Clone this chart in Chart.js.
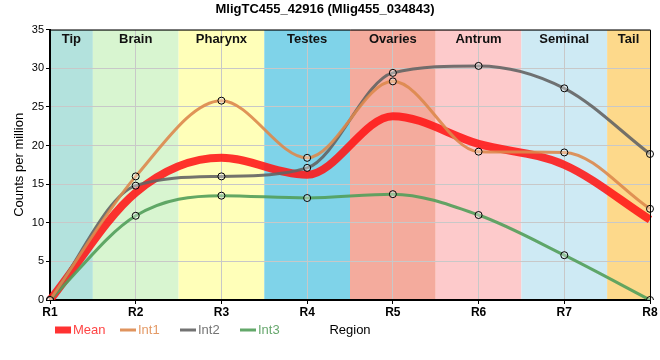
<!DOCTYPE html>
<html>
<head>
<meta charset="utf-8">
<script src="https://cdn.jsdelivr.net/npm/chart.js@4/dist/chart.umd.min.js"></script>
<style>
html,body{margin:0;padding:0;background:#fff;}
#wrap{width:660px;height:360px;position:relative;}
</style>
</head>
<body>
<div id="wrap"><canvas id="c" width="660" height="360"></canvas></div>
<script>
const categories = ['R1','R2','R3','R4','R5','R6','R7','R8'];
const meanVals = [0, 13.9, 18.4, 16.2, 23.8, 20.2, 17.5, 10.4];
const int1Vals = [0, 16.0, 25.8, 18.4, 28.3, 19.2, 19.1, 11.8];
const int2Vals = [0, 14.8, 16.0, 17.1, 29.4, 30.3, 27.4, 18.9];
const int3Vals = [0, 10.9, 13.5, 13.2, 13.7, 11.0, 5.8, 0];
const bandNames = ['Tip','Brain','Pharynx','Testes','Ovaries','Antrum','Seminal','Tail'];
const bandStart = [0, 0.5, 1.5, 2.5, 3.5, 4.5, 5.5, 6.5];
const bandEnd   = [0.5, 1.5, 2.5, 3.5, 4.5, 5.5, 6.5, 7];
const bandColors = ['#b3e2dd','#d8f5d0','#ffffb9','#7fd3e9','#f4ab9d','#fdcacb','#ceeaf4','#fdd98b'];
const yTicks = [0,5,10,15,20,25,30,35];
const legendText = ['Mean','Int1','Int2','Int3'];
const legendTextColors = ['#ff4545','#e49a66','#747474','#68a86e'];

const FONT = '"Liberation Sans", Arial, sans-serif';

const bandPlugin = {
  id: 'bands',
  beforeDraw(chart) {
    const {ctx, chartArea, scales} = chart;
    const x = scales.x;
    ctx.save();
    for (let i = 0; i < bandNames.length; i++) {
      const x0 = x.getPixelForValue(bandStart[i]);
      const x1 = x.getPixelForValue(bandEnd[i]);
      ctx.fillStyle = bandColors[i];
      ctx.fillRect(x0, chartArea.top, x1 - x0, chartArea.bottom - chartArea.top);
    }
    ctx.restore();
  },
  afterDatasetsDraw(chart) {
    const {ctx, chartArea, scales} = chart;
    const x = scales.x;
    ctx.save();
    ctx.fillStyle = '#111';
    ctx.font = 'bold 13px ' + FONT;
    ctx.textAlign = 'center';
    ctx.textBaseline = 'middle';
    for (let i = 0; i < bandNames.length; i++) {
      const x0 = x.getPixelForValue(bandStart[i]);
      const x1 = x.getPixelForValue(bandEnd[i]);
      ctx.fillText(bandNames[i], (x0 + x1) / 2, chartArea.top + 10);
    }
    ctx.strokeStyle = '#000';
    ctx.lineWidth = 1;
    ctx.beginPath();
    ctx.moveTo(chartArea.left, chartArea.top + 0.5);
    ctx.lineTo(chartArea.right + 0.5, chartArea.top + 0.5);
    ctx.lineTo(chartArea.right + 0.5, chartArea.bottom);
    ctx.stroke();
    ctx.restore();
  },
  afterDraw(chart) {
    const {ctx, chartArea} = chart;
    const ly = chartArea.bottom + 30;
    ctx.save();
    ctx.font = '13px ' + FONT;
    ctx.textBaseline = 'middle';
    ctx.textAlign = 'left';
    // legend drawn from dataset styles
    let lx = chartArea.left + 5;
    chart.data.datasets.forEach((d, i) => {
      ctx.strokeStyle = d.borderColor;
      ctx.lineWidth = i === 0 ? 7 : 3;
      ctx.beginPath();
      ctx.moveTo(lx, ly);
      ctx.lineTo(lx + 16, ly);
      ctx.stroke();
      ctx.fillStyle = legendTextColors[i];
      const tx = lx + (i === 0 ? 18 : 18);
      ctx.fillText(legendText[i], tx, ly);
      lx = i === 0 ? lx + 65 : lx + 60;
    });
    ctx.fillStyle = '#000';
    ctx.textAlign = 'center';
    ctx.fillText('Region', (chartArea.left + chartArea.right) / 2, ly);
    ctx.restore();
  }
};

const pointFill = 'rgba(255,255,255,0.35)';
function ds(label, data, color, width, order, radius) {
  return {
    label, data, borderColor: color, backgroundColor: color,
    borderWidth: width, cubicInterpolationMode: 'monotone',
    pointRadius: radius, pointBorderColor: '#000', pointBackgroundColor: pointFill,
    pointBorderWidth: 1, pointStyle: 'circle', order
  };
}

new Chart(document.getElementById('c'), {
  type: 'line',
  data: {
    labels: categories,
    datasets: [
      ds('Mean', meanVals, 'rgba(255,22,22,0.88)', 8, 1, 0),
      ds('Int1', int1Vals, 'rgba(221,136,76,0.9)', 3, 0, 3.5),
      ds('Int2', int2Vals, 'rgba(100,100,100,0.9)', 3, 0, 3.5),
      ds('Int3', int3Vals, 'rgba(82,158,90,0.9)', 3, 0, 3.5)
    ]
  },
  plugins: [bandPlugin],
  options: {
    responsive: false,
    animation: false,
    devicePixelRatio: 1,
    layout: { padding: { left: 0, right: 10, top: 0, bottom: 40 } },
    plugins: {
      title: {
        display: true,
        text: 'MligTC455_42916 (Mlig455_034843)',
        color: '#000',
        font: { family: FONT, size: 13, weight: 'bold' },
        padding: { top: 2, bottom: 12 }
      },
      tooltip: { enabled: false },
      legend: { display: false }
    },
    scales: {
      x: {
        type: 'category',
        offset: false,
        grid: { color: '#c8c8c8', lineWidth: 1, tickLength: 4, tickColor: '#000' },
        border: { color: '#000', width: 2 },
        ticks: { color: '#000', font: { family: FONT, size: 12, weight: 'bold' }, padding: 1, maxRotation: 0 },
        afterFit(s) { s.height = 20; }
      },
      y: {
        min: 0, max: 35,
        afterBuildTicks(s) { s.ticks = yTicks.map(v => ({ value: v })); },
        grid: { color: '#c8c8c8', lineWidth: 1, tickLength: 4, tickColor: '#000' },
        border: { color: '#000', width: 2 },
        ticks: { color: '#000', font: { family: FONT, size: 11 }, padding: 2 },
        title: { display: true, text: 'Counts per million', color: '#000', font: { family: FONT, size: 13 }, padding: { top: 12, bottom: 0 } },
        afterFit(s) { s.width = 50; }
      }
    }
  }
});
</script>
</body>
</html>
